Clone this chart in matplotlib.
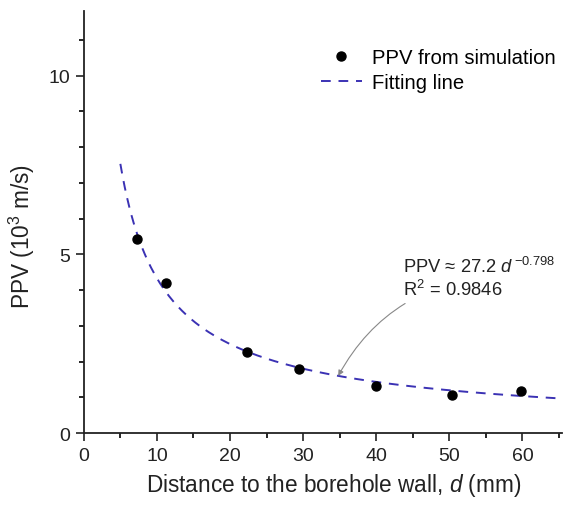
import numpy as np
import matplotlib
matplotlib.use("Agg")
import matplotlib.pyplot as plt
from matplotlib.ticker import MultipleLocator

plt.rcParams['font.family'] = ['Liberation Sans', 'DejaVu Sans']
plt.rcParams['mathtext.fontset'] = 'custom'
plt.rcParams['mathtext.rm'] = 'Liberation Sans'
plt.rcParams['mathtext.it'] = 'Liberation Sans:italic'

# simulation results
d_sim = [7.3, 11.2, 22.3, 29.5, 40.0, 50.4, 59.8]
ppv_sim = [5.43, 4.19, 2.28, 1.80, 1.33, 1.07, 1.17]

# fitted power law  PPV = a * d^b
fit_a = 27.2
fit_b = -0.798
d_fit = np.linspace(5, 65, 200)
ppv_fit = fit_a * d_fit ** fit_b

fig = plt.figure(figsize=(5.74, 5.06), dpi=100)
ax = fig.add_axes([0.146, 0.142, 0.833, 0.834])

ax.plot(d_fit, ppv_fit, linestyle=(0, (5, 4)), color="#3b32b4", linewidth=1.4,
        label="Fitting line", zorder=2)
ax.plot(d_sim, ppv_sim, "o", color="black", markersize=6.5,
        label="PPV from simulation", zorder=3)

ax.set_xlim(0, 65.4)
ax.set_ylim(0, 11.8)
ax.xaxis.set_major_locator(MultipleLocator(10))
ax.xaxis.set_minor_locator(MultipleLocator(5))
ax.yaxis.set_major_locator(MultipleLocator(5))
ax.yaxis.set_minor_locator(MultipleLocator(1))
ax.tick_params(which="major", direction="out", length=6, width=1.2, labelsize=14,
               colors="#222222", pad=4)
ax.tick_params(which="minor", direction="out", length=3.5, width=1.2)
for s in ("top", "right"):
    ax.spines[s].set_visible(False)
for s in ("left", "bottom"):
    ax.spines[s].set_linewidth(1.3)
    ax.spines[s].set_color("#222222")

ax.set_xlabel("Distance to the borehole wall, $\\mathit{d}$ (mm)", fontsize=16.3,
              color="#222222", labelpad=5)
ax.xaxis.label.set_x(0.523)
ax.set_ylabel("PPV (10$^3$ m/s)", fontsize=16.3, color="#222222")
ax.yaxis.set_label_coords(-0.098, 0.469)

handles, labels = ax.get_legend_handles_labels()
ax.legend(handles[::-1], labels[::-1], loc="upper right", bbox_to_anchor=(1.025, 0.955),
          frameon=False, fontsize=14.6, handlelength=2.0, handletextpad=0.5,
          labelspacing=0.3)

ax.annotate("PPV ≈ 27.2 $\\mathit{d}^{\\,\\mathrm{-0.798}}$\nR$^2$ = 0.9846",
            xy=(34.8, 1.6), xytext=(43.7, 4.35),
            fontsize=13.2, color="#222222", va="center", ha="left",
            arrowprops=dict(arrowstyle="-|>", color="#888888", lw=0.8,
                            connectionstyle="arc3,rad=0.25", shrinkA=2, shrinkB=0,
                            mutation_scale=8))

fig.savefig("out.png", dpi=100)
